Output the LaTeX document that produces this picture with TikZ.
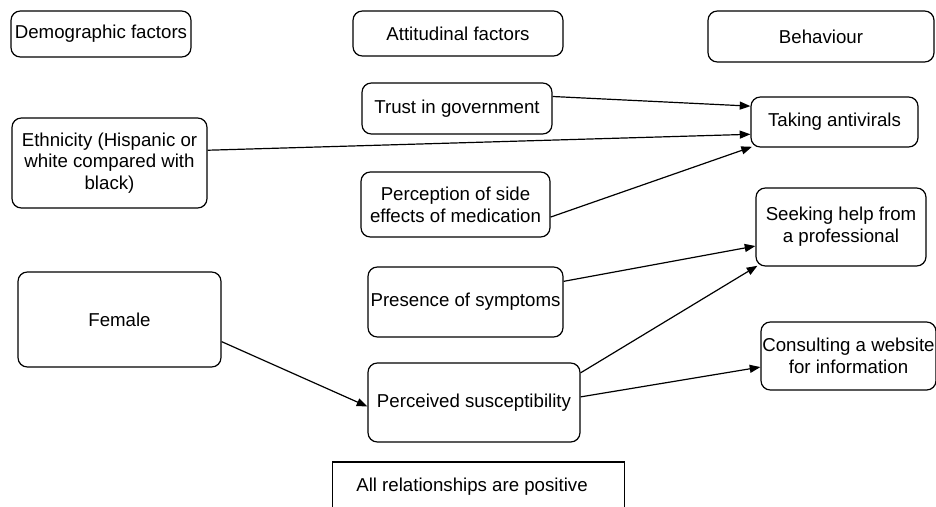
\documentclass[tikz,border=0pt]{standalone}
\usepackage{fontspec}
\setmainfont{Liberation Sans}
\usetikzlibrary{arrows.meta,calc}
\begin{document}
\begin{tikzpicture}[x=0.75pt,y=-0.75pt,
  box/.style={draw, line width=0.9pt, rounded corners=7pt, align=center, inner sep=1pt,
    font=\fontsize{14}{16.3}\selectfont},
  plainbox/.style={draw, line width=0.9pt, inner sep=0pt},
  lbl/.style={inner sep=0pt, font=\fontsize{14}{16.3}\selectfont},
  sz/.style n args={2}{minimum width=#1*0.75pt, minimum height=#2*0.75pt},
  arr/.style={line width=0.9pt, -{Triangle[length=8pt,width=6pt]}}]
\useasboundingbox (0,0) rectangle (936,507);
\clip (0,0) rectangle (936,507);

% headers
\node[box, sz={180}{46}] (demo) at (101,34) {Demographic factors};
\node[box, sz={210}{45}] (att) at (458,33.5) {Attitudinal factors};
\node[box, sz={226}{51}] (beh) at (821,36.5) {Behaviour};

% demographic
\node[box, sz={195}{90}] (eth) at (109.5,163) {Ethnicity (Hispanic or\\white compared with\\black)};
\node[box, sz={203}{95}] (fem) at (119.5,319.5) {Female};

% attitudinal
\node[box, sz={190}{51}] (trust) at (457,108.5) {Trust in government};
\node[box, sz={189}{65}] (perc) at (455.5,204.5) {Perception of side\\effects of medication};
\node[box, sz={195}{70}] (pres) at (465.5,302) {Presence of symptoms};
\node[box, sz={212}{79}] (percs) at (474,402.5) {Perceived susceptibility};

% behaviour
\node[box, sz={167}{50}] (take) at (834.5,122) {Taking antivirals};
\node[box, sz={170}{78}] (seek) at (841,227) {Seeking help from\\a professional};
\node[box, sz={175}{68}] (cons) at (848.5,356) {Consulting a website\\for information};

% note
\node[plainbox, sz={292}{52}] (allbox) at (478.5,488) {};
\node[lbl] (all) at (472,487) {All relationships are positive};

% connectors
\draw[arr] ($(trust.north east)!0.27!(trust.south east)$) -- ($(take.north west)!0.19!(take.south west)$);
\draw[arr] ($(eth.north east)!0.36!(eth.south east)$) -- ($(take.north west)!0.74!(take.south west)$);
\draw[arr] ($(perc.north east)!0.69!(perc.south east)$) -- ([xshift=1.2pt,yshift=0.6pt]take.south west);
\draw[arr] ($(pres.north east)!0.21!(pres.south east)$) -- ($(seek.north west)!0.74!(seek.south west)$);
\draw[arr] ($(percs.north east)!0.13!(percs.south east)$) -- ([xshift=1.5pt,yshift=0.6pt]seek.south west);
\draw[arr] ($(percs.north east)!0.43!(percs.south east)$) -- ($(cons.north west)!0.66!(cons.south west)$);
\draw[arr] ($(fem.north east)!0.73!(fem.south east)$) -- ($(percs.north west)!0.55!(percs.south west)$);
\end{tikzpicture}
\end{document}
